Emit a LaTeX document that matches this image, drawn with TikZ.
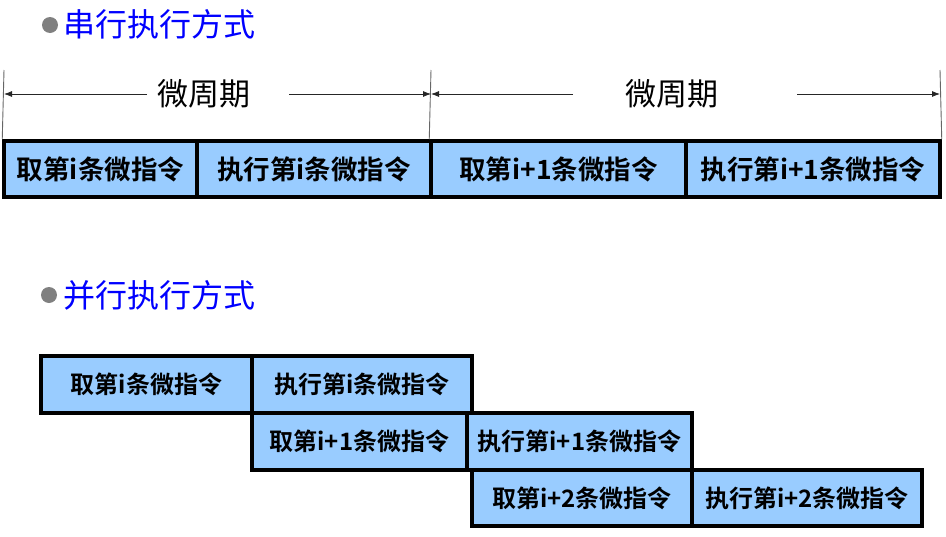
\documentclass[tikz,border=0pt]{standalone}
\usepackage{fontspec}
\newfontfamily\cjk{Noto Sans CJK SC}[BoldFont={Noto Sans CJK SC Bold}]
\usetikzlibrary{arrows.meta}
\definecolor{cellblue}{RGB}{153,204,255}
\definecolor{titleblue}{RGB}{0,0,255}
\definecolor{bulletgray}{RGB}{128,128,128}
\begin{document}
\begin{tikzpicture}[x=1pt,y=-1pt,
  cellT/.style={draw=black, line width=3.5pt, fill=cellblue, inner sep=0pt,
    font=\cjk\bfseries\fontsize{26.5}{26.5}\selectfont},
  cellB/.style={draw=black, line width=3.5pt, fill=cellblue, inner sep=0pt,
    font=\cjk\bfseries\fontsize{24}{24}\selectfont},
  head/.style={anchor=west, text=titleblue, inner sep=0pt,
    font=\cjk\fontsize{32}{32}\selectfont},
  bullet/.style={circle, fill=bulletgray, minimum size=16pt, inner sep=0pt},
  period/.style={inner sep=0pt, font=\cjk\fontsize{31}{31}\selectfont},
  dimline/.style={draw=black!85, line width=0.8pt, -{Latex[length=8pt,width=6pt]}},
  tick/.style={draw=black!60, line width=0.9pt}
]
\useasboundingbox (0,0) rectangle (946,536);

% headings
\node[bullet] (b1) at (50,25) {};
\node[head] (h1) at (63,24) {串行执行方式};
\node[bullet] (b2) at (49,295) {};
\node[head] (h2) at (63,295) {并行执行方式};

% serial row
\node[cellT, minimum width=193, minimum height=56] (s1) at (100.5,169) {取第i条微指令};
\node[cellT, minimum width=234, minimum height=56] (s2) at (314,169) {执行第i条微指令};
\node[cellT, minimum width=255, minimum height=56] (s3) at (558.5,169) {取第i+1条微指令};
\node[cellT, minimum width=254, minimum height=56] (s4) at (813,169) {执行第i+1条微指令};

% tick lines
\coordinate (v1) at (4,70);
\coordinate (v2) at (431,70);
\coordinate (v3) at (940,70);
\draw[tick] (v1) -- (s1.north west);
\draw[tick] (v2) -- (s3.north west);
\draw[tick] (v3) -- (s4.north east);

% micro-cycle labels and dimension arrows
\node[period] (m1) at (204,94) {微周期};
\node[period] (m2) at (672,94) {微周期};
\coordinate (l1a) at (147,94);
\coordinate (l1b) at (289,94);
\coordinate (l2a) at (573,94);
\coordinate (l2b) at (797,94);
\coordinate (e1) at (4,94);
\coordinate (e2) at (431,94);
\coordinate (e3) at (940,94);
\draw[dimline] (l1a) -- (e1);
\draw[dimline] (l1b) -- (e2);
\draw[dimline] (l2a) -- (e2);
\draw[dimline] (l2b) -- (e3);

% parallel rows
\node[cellB, minimum width=211, minimum height=57] (p1) at (146.5,384.5) {取第i条微指令};
\node[cellB, minimum width=220, minimum height=57] (p2) at (362,384.5) {执行第i条微指令};
\node[cellB, minimum width=215, minimum height=57] (p3) at (359.5,441.5) {取第i+1条微指令};
\node[cellB, minimum width=225, minimum height=57] (p4) at (579.5,441.5) {执行第i+1条微指令};
\node[cellB, minimum width=220, minimum height=56] (p5) at (582,498) {取第i+2条微指令};
\node[cellB, minimum width=230, minimum height=56] (p6) at (807,498) {执行第i+2条微指令};
\end{tikzpicture}
\end{document}
